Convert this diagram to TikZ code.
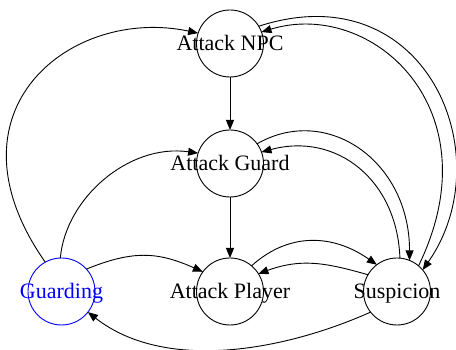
\documentclass[tikz,border=0pt]{standalone}
\usepackage{fontspec}
\setmainfont{Liberation Serif}
\usetikzlibrary{arrows.meta}

\begin{document}
\begin{tikzpicture}[x=1pt, y=1pt,
		state/.style={draw, circle, minimum size=67pt, inner sep=0pt, outer sep=0pt, line width=0.9pt},
		every label/.style={font=\fontsize{22}{24}\selectfont, text height=14.5pt, text depth=0pt, inner sep=0pt},
		edge/.style={-{Triangle[length=10pt, width=8pt]}, line width=0.9pt}]
	\useasboundingbox (0,0) rectangle (456,350);
	\node[state, label=center:{Attack NPC}] (npc) at (230,306.5) {};
	\node[state, label=center:{Attack Guard}] (guard) at (230,186.5) {};
	\node[state, label=center:{Attack Player}] (player) at (230,58.5) {};
	\node[state, draw=blue, label={[text=blue]center:Guarding}] (guarding) at (61.5,58.5) {};
	\node[state, label=center:{Suspicion}] (susp) at (397,58.5) {};
	\draw[edge] (npc) -- (guard);
	\draw[edge] (guard) -- (player);
	\draw[edge] (guarding.119) to[out=125, in=168, out distance=185pt, in distance=130pt] (npc.162);
	\draw[edge] (guarding.92) to[out=85, in=172, out distance=60pt, in distance=70pt] (guard.162);
	\draw[edge] (guarding.42) to[out=22, in=156, distance=50pt] (player.144);
	\draw[edge] (susp.218) to[out=204, in=322, distance=97pt] (guarding.322);
	\draw[edge] (player.50) to[out=42, in=145, distance=52pt] (susp.127);
	\draw[edge] (susp.150) to[out=164, in=20, distance=45pt] (player.32);
	\draw[edge] (guard.36) to[out=30, in=90, out distance=80pt, in distance=100pt] (susp.68);
	\draw[edge] (susp.85) to[out=92, in=15, distance=78pt] (guard.20);
	\draw[edge] (npc.31) to[out=18, in=55, out distance=175pt, in distance=140pt] (susp.40);
	\draw[edge] (susp.50) to[out=64, in=17, out distance=175pt, in distance=115pt] (npc.20);
\end{tikzpicture}
\end{document}
